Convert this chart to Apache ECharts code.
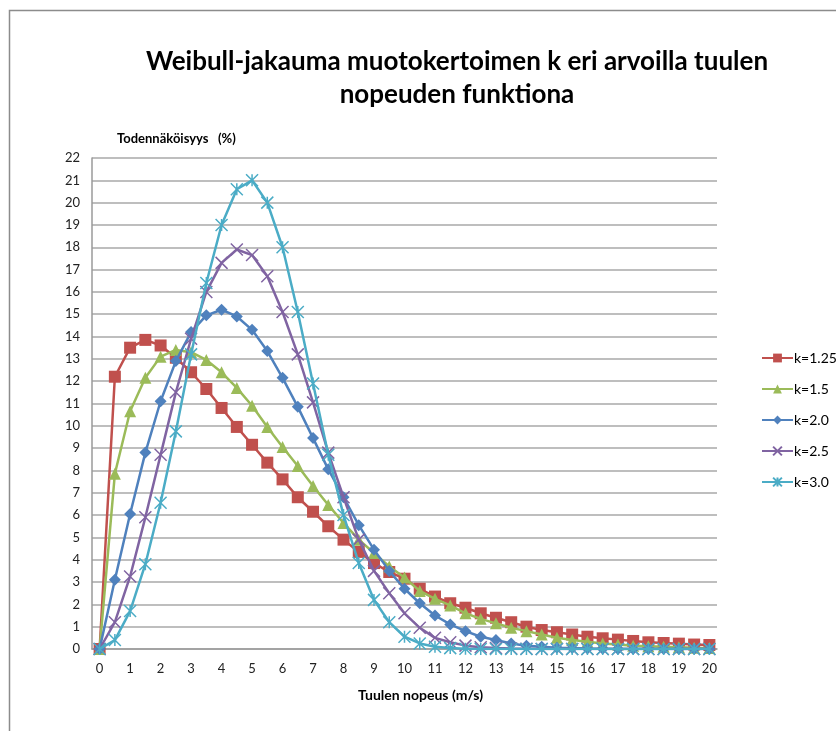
<!DOCTYPE html>
<html>
<head>
<meta charset="utf-8">
<script src="https://cdn.jsdelivr.net/npm/echarts@6/dist/echarts.min.js"></script>
<style>
html,body{margin:0;padding:0;background:#fff;}
#main{width:836px;height:731px;}
</style>
</head>
<body>
<div id="main"></div>
<script>
// tuulen nopeus 0..20 m/s, 0.5 askel
var speeds = ['0','0.5','1','1.5','2','2.5','3','3.5','4','4.5','5','5.5','6','6.5','7','7.5','8','8.5','9','9.5','10',
	'10.5','11','11.5','12','12.5','13','13.5','14','14.5','15','15.5','16','16.5','17','17.5','18','18.5','19','19.5','20'];

var k125 = [0,12.2,13.5,13.85,13.6,13.05,12.4,11.65,10.8,9.95,9.15,8.35,7.6,6.8,6.15,5.5,4.9,4.35,3.85,3.45,3.15,
	2.7,2.35,2.05,1.85,1.6,1.4,1.2,1.0,0.85,0.75,0.65,0.55,0.48,0.42,0.36,0.3,0.27,0.24,0.2,0.18];
var k15 = [0,7.85,10.65,12.15,13.1,13.4,13.3,12.95,12.4,11.7,10.9,9.95,9.05,8.2,7.3,6.45,5.65,4.9,4.3,3.7,3.2,
	2.6,2.25,1.95,1.6,1.35,1.15,0.95,0.8,0.65,0.5,0.4,0.32,0.25,0.2,0.15,0.12,0.1,0.08,0.06,0.05];
var k20 = [0,3.1,6.05,8.8,11.1,12.9,14.2,14.95,15.2,14.9,14.3,13.35,12.15,10.85,9.45,8.05,6.8,5.55,4.45,3.5,2.7,
	2.05,1.5,1.1,0.8,0.55,0.4,0.25,0.15,0.1,0.06,0.04,0.02,0.01,0,0,0,0,0,0,0];
var k25 = [0,1.2,3.25,5.9,8.7,11.5,13.9,16.0,17.3,17.9,17.65,16.7,15.1,13.2,11.05,8.8,6.8,4.9,3.5,2.5,1.6,
	0.95,0.5,0.3,0.15,0.08,0.04,0.02,0.01,0,0,0,0,0,0,0,0,0,0,0,0];
var k30 = [0,0.4,1.7,3.8,6.55,9.75,13.2,16.4,19.0,20.6,21.0,20.0,18.0,15.1,11.9,8.7,6.0,3.85,2.2,1.2,0.55,
	0.25,0.1,0.04,0.01,0,0,0,0,0,0,0,0,0,0,0,0,0,0,0,0];

var seriesNames = ['k=1.25','k=1.5','k=2.0','k=2.5','k=3.0'];
var seriesData = [k125, k15, k20, k25, k30];
var colors = ['#C0504D','#9BBB59','#4F81BD','#8064A2','#4BACC6'];

var FONT = 'Lato, "Open Sans", sans-serif';
var symX = 'path://M0,0L10,10M10,0L0,10';
var symStar = 'path://M0,0L10,10M10,0L0,10M5,0L5,10';
var symbols = ['rect','triangle','diamond',symX,symStar];
var symSizes = [12,12,12,12,12];

var chart = echarts.init(document.getElementById('main'));

var series = seriesNames.map(function(name, i){
	var isPath = i >= 3;
	return {
		name: name,
		type: 'line',
		data: seriesData[i],
		symbol: symbols[i],
		symbolSize: symSizes[i],
		showAllSymbol: true,
		smooth: false,
		lineStyle: {color: colors[i], width: 2.5},
		itemStyle: isPath ? {color: colors[i], borderColor: colors[i], borderWidth: 1.5}
			: {color: colors[i], borderWidth: 0},
		emphasis: {disabled: true},
		z: 2 + i
	};
});

chart.setOption({
	animation: false,
	color: colors,
	textStyle: {fontFamily: FONT},
	title: {
		text: 'Weibull-jakauma muotokertoimen k eri arvoilla tuulen\nnopeuden funktiona',
		left: 452,
		textAlign: 'center',
		top: 40,
		textStyle: {fontFamily: FONT, fontSize: 26, fontWeight: 'bold', color: '#000', lineHeight: 33}
	},
	legend: {
		orient: 'vertical',
		left: 756,
		top: 346,
		itemWidth: 31,
		itemHeight: 11,
		itemGap: 17,
		textStyle: {fontFamily: FONT, fontSize: 14, color: '#000', padding: [0,0,0,-4]},
		data: seriesNames
	},
	grid: {left: 92, right: 119, top: 158, bottom: 82, containLabel: false},
	xAxis: {
		type: 'category',
		data: speeds,
		boundaryGap: true,
		name: 'Tuulen nopeus (m/s)',
		nameLocation: 'middle',
		nameGap: 39,
		nameTextStyle: {fontFamily: FONT, fontSize: 14, fontWeight: 'bold', color: '#000', padding: [0,0,0,32]},
		axisLine: {lineStyle: {color: '#9a9a9a', width: 1.5}},
		axisTick: {show: false},
		axisLabel: {interval: 1, margin: 13, fontSize: 13, color: '#222', fontFamily: FONT},
		splitLine: {show: false}
	},
	yAxis: {
		type: 'value',
		min: 0,
		max: 22,
		interval: 1,
		name: 'Todennäköisyys   (%)',
		nameLocation: 'end',
		nameGap: 13,
		nameTextStyle: {fontFamily: FONT, fontSize: 13, fontWeight: 'bold', color: '#000', align: 'left', padding: [0,0,0,25]},
		axisLine: {show: true, lineStyle: {color: '#9a9a9a', width: 1.5}},
		axisTick: {show: false},
		axisLabel: {margin: 12, fontSize: 13, color: '#222', fontFamily: FONT},
		splitLine: {lineStyle: {color: '#a8a8a8', width: 1.5}}
	},
	graphic: [{
		type: 'rect',
		silent: true,
		shape: {x: 9.5, y: 10.5, width: 900, height: 900},
		style: {fill: 'none', stroke: '#8c8c8c', lineWidth: 1.5}
	}],
	series: series
});
</script>
</body>
</html>
